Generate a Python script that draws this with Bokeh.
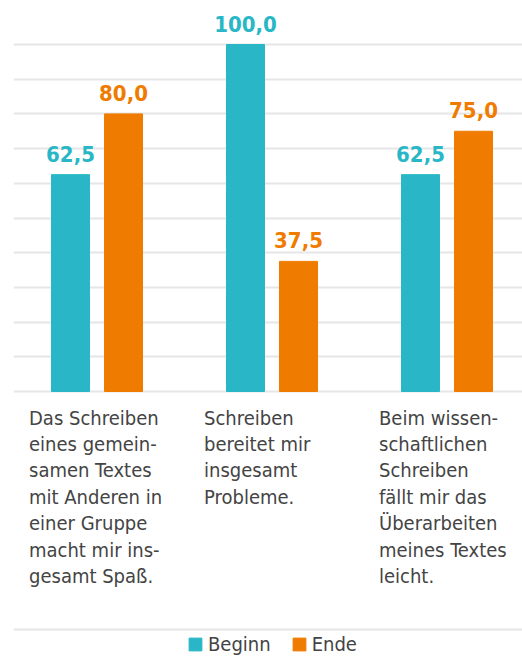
from bokeh.plotting import figure
from bokeh.models import Range1d, FixedTicker, Legend, LegendItem, Span, ColumnDataSource
from bokeh.core.properties import value
from bokeh.embed import file_html
from bokeh.resources import INLINE

categories = [
    "Das Schreiben\neines gemein-\nsamen Textes\nmit Anderen in\neiner Gruppe\nmacht mir ins-\ngesamt Spaß.",
    "Schreiben\nbereitet mir\ninsgesamt\nProbleme.",
    "Beim wissen-\nschaftlichen\nSchreiben\nfällt mir das\nÜberarbeiten\nmeines Textes\nleicht.",
]
beginn = [62.5, 100.0, 62.5]
ende = [80.0, 37.5, 75.0]
series_names = ["Beginn", "Ende"]
colors = ["#29b7c7", "#ef7c00"]
grid_ticks = [0, 10, 20, 30, 40, 50, 60, 70, 80, 90, 100]

FONT = "DejaVu Sans Condensed"

W, H = 522, 659
left = 13
px_per_unit_x = 175.0
px_per_unit_y = 3.47
base_px = 391

xs = list(range(len(categories)))
x_start = -(96.5 - left) / px_per_unit_x
x_end = x_start + (W - left) / px_per_unit_x
y_end = base_px / px_per_unit_y
y_start = -(H - base_px) / px_per_unit_y

p = figure(width=W, height=H, output_backend="svg", toolbar_location=None,
           x_range=Range1d(x_start, x_end), y_range=Range1d(y_start, y_end),
           min_border_left=left, min_border_right=0, min_border_top=0, min_border_bottom=0,
           outline_line_color=None)
p.axis.visible = False
p.xgrid.visible = False
p.ygrid.ticker = FixedTicker(ticks=grid_ticks)
p.ygrid.grid_line_color = "#e6e6e6"
p.ygrid.grid_line_width = 2

off = 26.5 / px_per_unit_x
bw = 38 / px_per_unit_x
renderers = []
for k, (vals, col, d) in enumerate(zip([beginn, ende], colors, [-off, off])):
    src = ColumnDataSource(dict(x=[i + d for i in xs], top=vals,
                                lab=[f"{v:.1f}".replace(".", ",") for v in vals]))
    r = p.vbar(x="x", top="top", bottom=0, width=bw, color=col, source=src)
    renderers.append(r)
    p.text(x="x", y="top", text="lab", source=src, text_align="center",
           text_baseline="bottom", y_offset=-13, text_color=col,
           text_font=value(FONT), text_font_style="bold",
           text_font_size="22px")

csrc = ColumnDataSource(dict(x=[i - 68 / px_per_unit_x for i in xs], y=[-14 / px_per_unit_y] * 3, t=categories))
p.text(x="x", y="y", text="t", source=csrc, text_align="left", text_baseline="top",
       text_color="#444444", text_font=value(FONT),
       text_font_size="20px", text_line_height=1.1)

p.add_layout(Span(location=(base_px - 629) / px_per_unit_y, dimension="width",
                  line_color="#e6e6e6", line_width=2))

legend = Legend(items=[LegendItem(label=n, renderers=[r]) for n, r in zip(series_names, renderers)],
                orientation="horizontal", location=(174, 3), padding=0, margin=0,
                spacing=20, glyph_width=16, glyph_height=16, label_standoff=5,
                label_text_font=FONT, label_text_font_size="20px",
                label_text_color="#444444", border_line_color=None,
                background_fill_alpha=0)
p.add_layout(legend)

open("out.html", "w").write(file_html(p, INLINE))
